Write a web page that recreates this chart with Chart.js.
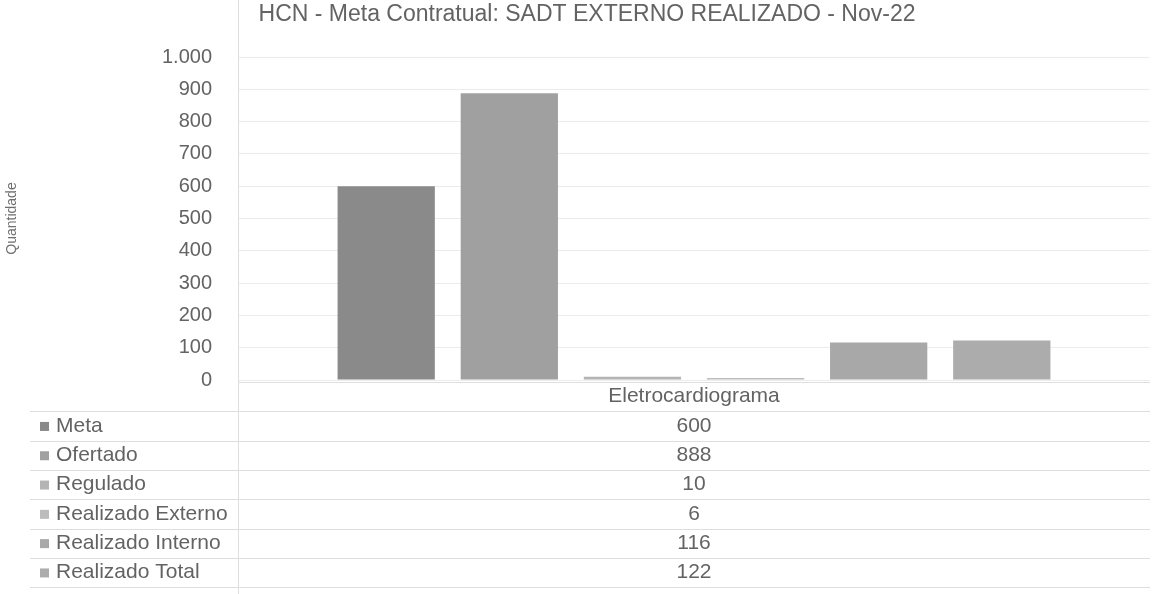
<!DOCTYPE html>
<html>
<head>
<meta charset="utf-8">
<script src="https://cdn.jsdelivr.net/npm/chart.js@4"></script>
<style>
  body { margin: 0; background: #fff; }
  #chart { display: block; }
</style>
</head>
<body>
<canvas id="chart" width="1152" height="594"></canvas>
<script>
const chartTitle = 'HCN - Meta Contratual: SADT EXTERNO REALIZADO - Nov-22';
const categories = ['Eletrocardiograma'];
const seriesNames = ['Meta', 'Ofertado', 'Regulado', 'Realizado Externo', 'Realizado Interno', 'Realizado Total'];
const seriesValues = [[600], [888], [10], [6], [116], [122]];
const seriesColors = ['#8a8a8a', '#a0a0a0', '#b4b4b4', '#bcbcbc', '#a8a8a8', '#acacac'];
const yTicks = [0, 100, 200, 300, 400, 500, 600, 700, 800, 900, 1000];

const textColor = '#636363';
const fontFamily = '"Liberation Sans", Arial, sans-serif';

function fmt(n) {
    return String(n).replace(/\B(?=(\d{3})+(?!\d))/g, '.');
}

// title + data table under the plot, drawn from the chart's own data
const dataTable = {
    id: 'dataTable',
    afterDraw(chart) {
        const ctx = chart.ctx;
        const area = chart.chartArea;
        const rowH = 29.3;
        const top = area.bottom + 2;
        const cx = (area.left + area.right) / 2;

        ctx.save();
        ctx.font = '23px ' + fontFamily;
        ctx.fillStyle = textColor;
        ctx.textAlign = 'center';
        ctx.textBaseline = 'middle';
        ctx.fillText(chartTitle, 587, 15);

        ctx.strokeStyle = '#dedede';
        ctx.lineWidth = 1;
        ctx.beginPath();
        ctx.moveTo(area.left + 0.5, 0);
        ctx.lineTo(area.left + 0.5, chart.height);
        for (let i = 0; i <= chart.data.datasets.length; i++) {
            const y = Math.round(top + rowH * (i + 1)) + 0.5;
            ctx.moveTo(30, y);
            ctx.lineTo(area.right, y);
        }
        ctx.moveTo(area.left, Math.round(top) + 0.5);
        ctx.lineTo(area.right, Math.round(top) + 0.5);
        ctx.stroke();

        ctx.font = '21px ' + fontFamily;
        ctx.fillText(chart.data.labels[0], cx, top + rowH / 2);

        chart.data.datasets.forEach((ds, i) => {
            const y = top + rowH * (i + 1) + rowH / 2;
            ctx.fillStyle = ds.backgroundColor;
            ctx.fillRect(40, y - 4, 9, 9);
            ctx.fillStyle = textColor;
            ctx.textAlign = 'left';
            ctx.fillText(ds.label, 56, y);
            ctx.textAlign = 'center';
            ctx.fillText(fmt(ds.data[0]), cx, y);
        });
        ctx.restore();
    }
};

new Chart(document.getElementById('chart'), {
    type: 'bar',
    data: {
        labels: categories,
        datasets: seriesNames.map((name, i) => ({
            label: name,
            data: seriesValues[i],
            backgroundColor: seriesColors[i],
            categoryPercentage: 0.81,
            barPercentage: 0.79
        }))
    },
    options: {
        responsive: false,
        animation: false,
        layout: { padding: { left: 0, right: 2, top: 57, bottom: 214 } },
        plugins: {
            legend: { display: false },
            tooltip: { enabled: false },
            title: { display: false }
        },
        scales: {
            x: { display: false },
            y: {
                min: 0,
                max: 1000,
                afterBuildTicks(scale) {
                    scale.ticks = yTicks.map(v => ({ value: v }));
                },
                afterFit(scale) {
                    scale.width = 238;
                },
                border: { display: false },
                grid: { color: '#ececec', drawTicks: false },
                ticks: {
                    padding: 26,
                    color: textColor,
                    font: { family: fontFamily, size: 20 },
                    callback: v => fmt(v)
                },
                title: {
                    display: true,
                    text: 'Quantidade',
                    color: '#6e6e6e',
                    font: { family: fontFamily, size: 14 },
                    padding: { top: 4, bottom: 0 }
                }
            }
        }
    },
    plugins: [dataTable]
});
</script>
</body>
</html>
